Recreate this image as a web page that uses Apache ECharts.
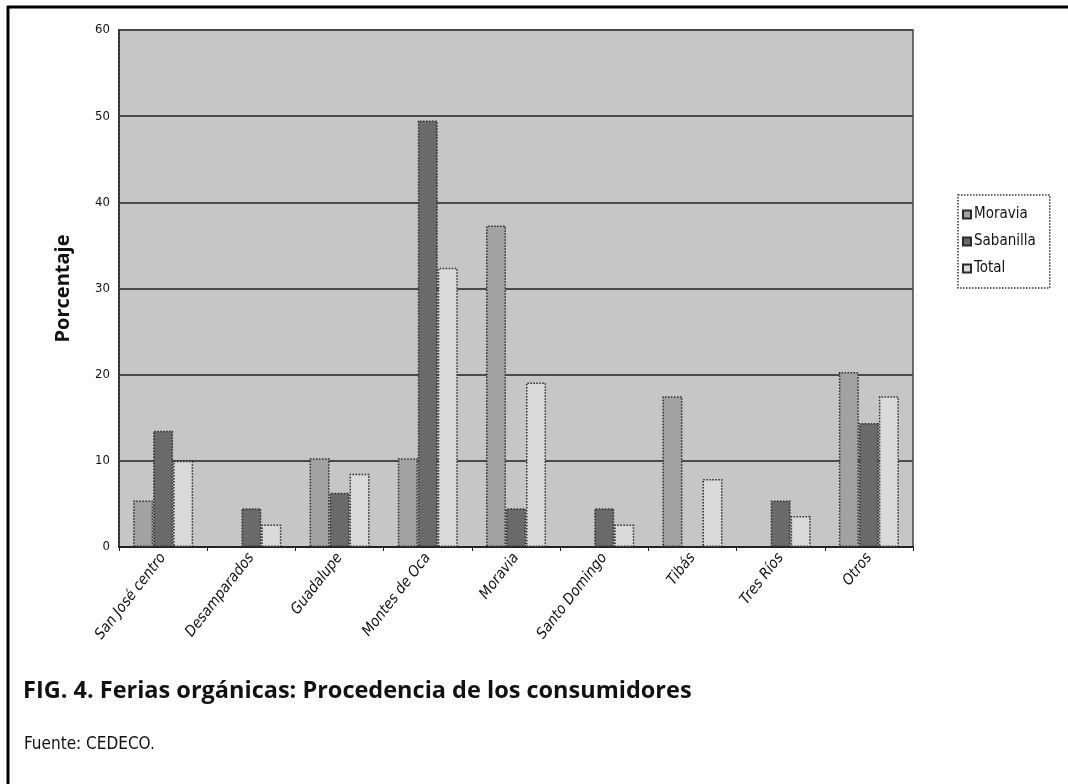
<!DOCTYPE html>
<html>
<head>
<meta charset="utf-8">
<script src="https://cdn.jsdelivr.net/npm/echarts@6/dist/echarts.min.js"></script>
<style>
html,body{margin:0;padding:0;background:#fff;}
#c{width:1068px;height:784px;}
</style>
</head>
<body>
<div id="c"></div>
<script>
const categories = ["San José centro","Desamparados","Guadalupe","Montes de Oca","Moravia","Santo Domingo","Tibás","Tres Ríos","Otros"];
const moravia   = [5.4, 0,   10.3, 10.3, 37.3, 0,   17.5, 0,   20.3];
const sabanilla = [13.5, 4.5, 6.3, 49.5, 4.5,  4.5, 0,    5.4, 14.4];
const total     = [10.0, 2.6, 8.5, 32.4, 19.1, 2.6, 7.9,  3.6, 17.5];
const seriesNames = ["Moravia","Sabanilla","Total"];
const seriesColors = ["#a2a2a2","#6a6a6a","#dadada"];
const yTicks = {min:0,max:60,interval:10};

const chart = echarts.init(document.getElementById('c'));
const font = "'DejaVu Sans Condensed','Liberation Sans Narrow','Open Sans',sans-serif";
const barStyle = (c)=>({color:c,borderColor:'#2a2a2a',borderWidth:1.5,borderType:'dotted'});
const datasets=[moravia,sabanilla,total];
chart.setOption({
  animation:false,
  backgroundColor:'#fff',
  title:[
    {text:'FIG. 4. Ferias orgánicas: Procedencia de los consumidores',left:18,top:674,
     textStyle:{fontFamily:"'Open Sans',sans-serif",fontWeight:'bold',fontSize:23.5,color:'#111'}},
    {text:'Fuente: CEDECO.',left:19,top:731,
     textStyle:{fontFamily:font,fontWeight:'normal',fontSize:17,color:'#111'}}
  ],
  graphic:[
    {type:'line',shape:{x1:7,y1:7,x2:1068,y2:7},style:{stroke:'#000',lineWidth:3}},
    {type:'line',shape:{x1:8,y1:6,x2:8,y2:784},style:{stroke:'#000',lineWidth:3}}
  ],
  legend:{
    orient:'vertical',left:958,top:195,
    data:seriesNames,
    itemWidth:8,itemHeight:8,itemGap:12,
    padding:[12,14,12,4],
    borderColor:'#333',borderWidth:1.5,borderType:'dotted',
    textStyle:{fontFamily:font,fontSize:15,color:'#111',padding:[0,0,0,-2]},
    icon:'rect'
  },
  grid:{left:119,top:30,width:794,height:517,backgroundColor:'#c6c6c6',show:true,borderColor:'#444',borderWidth:1.5},
  xAxis:{
    type:'category',data:categories,
    axisLine:{lineStyle:{color:'#222',width:2}},
    axisTick:{show:true,length:4,lineStyle:{color:'#222'}},
    axisLabel:{rotate:52,fontFamily:font,fontStyle:'italic',fontSize:15,color:'#111',margin:8}
  },
  yAxis:{
    type:'value',min:yTicks.min,max:yTicks.max,interval:yTicks.interval,
    name:'Porcentaje',nameLocation:'middle',nameGap:46,
    nameTextStyle:{fontFamily:"'Open Sans',sans-serif",fontWeight:'bold',fontSize:20,color:'#111'},
    axisLine:{show:true,lineStyle:{color:'#333',width:2,type:'dotted'}},
    axisTick:{show:false},
    axisLabel:{fontFamily:font,fontSize:13,color:'#111',margin:9},
    splitLine:{lineStyle:{color:'#4a4a4a',width:2}}
  },
  series:seriesNames.map((n,i)=>({
    name:n,type:'bar',data:datasets[i],
    barGap:'0%',barCategoryGap:'32%',
    itemStyle:barStyle(seriesColors[i])
  }))
});
</script>
</body>
</html>
